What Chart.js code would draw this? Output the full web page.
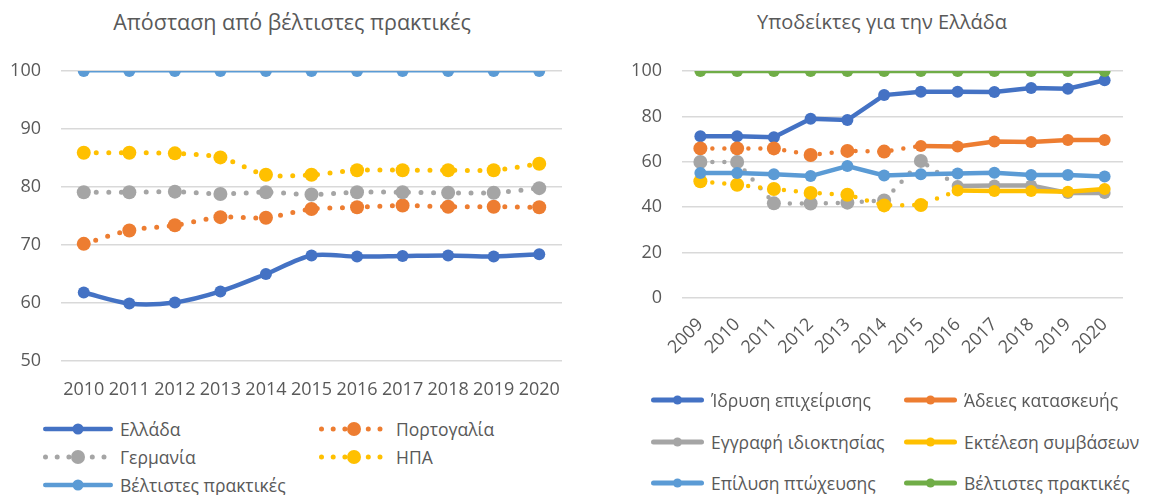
<!DOCTYPE html>
<html lang="el">
<head>
<meta charset="utf-8">
<script src="https://cdn.jsdelivr.net/npm/chart.js@4.4.1/dist/chart.umd.min.js"></script>
<style>
    body { margin: 0; background: #fff; width: 1152px; height: 495px; overflow: hidden; position: relative; font-family: "Open Sans", sans-serif; color: #595959; }
    canvas { position: absolute; top: 0; }
    .titlos { position: absolute; top: 8px; text-align: center; font-size: 20px; line-height: 28px; }
    .item { position: absolute; display: flex; align-items: center; font-size: 17.5px; white-space: nowrap; transform: translateY(-50%); }
    .item canvas { position: static; margin-right: 6px; flex: none; }
</style>
</head>
<body>
<div class="titlos" style="left:0;width:584px;font-size:21.5px">Απόσταση από βέλτιστες πρακτικές</div>
<div class="titlos" style="left:600px;width:564px">Υποδείκτες για την Ελλάδα</div>
<canvas id="c1" width="580" height="400" style="left:0"></canvas>
<canvas id="c2" width="572" height="400" style="left:580px"></canvas>
<div id="leg1"></div>
<div id="leg2"></div>
<script>
const $ = id => document.getElementById(id);

// αριστερό γράφημα
const etos1 = ["2010", "2011", "2012", "2013", "2014", "2015", "2016", "2017", "2018", "2019", "2020"];
const ellada = [61.8, 59.9, 60.1, 62.0, 65.0, 68.2, 68.0, 68.1, 68.2, 68.0, 68.4];
const portogalia = [70.2, 72.5, 73.4, 74.8, 74.7, 76.2, 76.5, 76.8, 76.6, 76.6, 76.5];
const germania = [79.1, 79.1, 79.2, 78.8, 79.1, 78.7, 79.1, 79.1, 79.0, 79.0, 79.8];
const ipa = [85.9, 85.9, 85.8, 85.1, 82.1, 82.1, 82.9, 82.9, 82.9, 82.9, 84.0];
const veltistes1 = [100, 100, 100, 100, 100, 100, 100, 100, 100, 100, 100];

// δεξί γράφημα
const etos2 = ["2009", "2010", "2011", "2012", "2013", "2014", "2015", "2016", "2017", "2018", "2019", "2020"];
const idrysi = [71.3, 71.3, 70.8, 79.0, 78.4, 89.4, 90.9, 90.9, 90.7, 92.5, 92.2, 95.9];
const adeies = [65.9, 65.9, 65.9, 63.0, 64.8, 64.5, 67.0, 66.7, 68.9, 68.7, 69.6, 69.6];
const eggrafi = [59.9, 59.9, 41.7, 41.6, 42.0, 43.0, 60.4, 49.3, 49.6, 49.6, 46.3, 46.3];
const ektelesi = [51.4, 49.9, 48.0, 46.3, 45.5, 40.8, 41.0, 47.4, 47.1, 47.1, 46.8, 48.0];
const epilysi = [55.1, 55.1, 54.5, 53.7, 58.1, 54.0, 54.5, 54.8, 55.2, 54.2, 54.2, 53.5];
const veltistes2 = [100, 100, 100, 100, 100, 100, 100, 100, 100, 100, 100, 100];

const xroma = {
    mple: "#4472C4", portokali: "#ED7D31", gkri: "#A5A5A5",
    kitrino: "#FFC000", anoixto: "#5B9BD5", prasino: "#70AD47"
};
const keimeno = "#595959";
const grammes = "#D9D9D9";
const grammatoseira = { family: "Open Sans", size: 18 };

const seira1 = [
    { label: "Ελλάδα", data: ellada, borderColor: xroma.mple, borderWidth: 4.5, pointRadius: 6 },
    { label: "Πορτογαλία", data: portogalia, borderColor: xroma.portokali, borderWidth: 5, pointRadius: 7, dots: true },
    { label: "Γερμανία", data: germania, borderColor: xroma.gkri, borderWidth: 5, pointRadius: 7, dots: true },
    { label: "ΗΠΑ", data: ipa, borderColor: xroma.kitrino, borderWidth: 5, pointRadius: 7, dots: true },
    { label: "Βέλτιστες πρακτικές", data: veltistes1, borderColor: xroma.anoixto, borderWidth: 3, pointRadius: 6 }
].map((d, i, arr) => ({
    ...d,
    backgroundColor: d.borderColor,
    pointBackgroundColor: d.borderColor,
    pointBorderWidth: 0,
    borderCapStyle: "round",
    borderDash: d.dots ? [0, 12.5] : [],
    tension: 0.3,
    order: arr.length - i
}));

// μέχρι ποιο σημείο η γραμμή είναι με τελείες
const seira2 = [
    { label: "Ίδρυση επιχείρισης", data: idrysi, borderColor: xroma.mple, teleies: -1 },
    { label: "Άδειες κατασκευής", data: adeies, borderColor: xroma.portokali, teleies: 6 },
    { label: "Εγγραφή ιδιοκτησίας", data: eggrafi, borderColor: xroma.gkri, teleies: 7 },
    { label: "Εκτέλεση συμβάσεων", data: ektelesi, borderColor: xroma.kitrino, teleies: 7 },
    { label: "Επίλυση πτώχευσης", data: epilysi, borderColor: xroma.anoixto, teleies: -1 },
    { label: "Βέλτιστες πρακτικές", data: veltistes2, borderColor: xroma.prasino, teleies: -1 }
].map((d, i, arr) => ({
    ...d,
    backgroundColor: d.borderColor,
    pointBackgroundColor: d.borderColor,
    pointBorderWidth: 0,
    borderWidth: 4.5,
    borderCapStyle: "round",
    pointRadius: c => c.dataIndex < d.teleies ? 7 : 6,
    segment: {
        borderDash: c => c.p1DataIndex <= d.teleies ? [0, 12] : []
    },
    tension: 0,
    order: arr.length - i
}));

function aksones(min, max, step, platos, ypsos, strofi) {
    return {
        x: {
            offset: true,
            grid: { display: false },
            border: { display: false },
            ticks: {
                color: keimeno, font: grammatoseira, padding: strofi ? 8 : 10,
                autoSkip: false, maxRotation: strofi, minRotation: strofi
            },
            afterFit: s => { s.height = ypsos; }
        },
        y: {
            min, max,
            grid: { color: grammes, lineWidth: 1.5, drawTicks: false },
            border: { display: false },
            ticks: { stepSize: step, color: keimeno, font: grammatoseira, padding: 20 },
            afterFit: s => { s.width = platos; }
        }
    };
}

function grafima(id, labels, datasets, scales, padding) {
    return new Chart($(id), {
        type: "line",
        data: { labels, datasets },
        options: {
            responsive: false,
            animation: false,
            layout: { padding },
            plugins: { legend: { display: false }, tooltip: { enabled: false } },
            scales
        }
    });
}

grafima("c1", etos1, seira1, aksones(50, 100, 10, 61, 39, 0), { top: 71, right: 18, left: 0, bottom: 0 });
grafima("c2", etos2, seira2, aksones(0, 100, 20, 102, 102, 45), { top: 71, right: 29, left: 0, bottom: 0 });

function deigma(ds, w, lw, r, teleies) {
    const c = document.createElement("canvas");
    c.width = w;
    c.height = 16;
    const g = c.getContext("2d");
    g.strokeStyle = ds.borderColor;
    g.fillStyle = ds.borderColor;
    g.lineWidth = lw;
    g.lineCap = "round";
    if (teleies) g.setLineDash([0, 11.7]);
    g.beginPath();
    g.moveTo(lw / 2 + 1, 8);
    g.lineTo(w - lw / 2 - 1, 8);
    g.stroke();
    g.beginPath();
    g.arc(w / 2, 8, r, 0, Math.PI * 2);
    g.fill();
    return c;
}

function ypomnima(id, datasets, theseis, w, lw, r) {
    const box = $(id);
    datasets.forEach((ds, i) => {
        const [x, y] = theseis[i];
        const el = document.createElement("div");
        el.className = "item";
        el.style.left = x + "px";
        el.style.top = y + "px";
        el.append(deigma(ds, w, ds.dots ? 5 : lw, ds.dots ? 7 : r, ds.dots));
        const t = document.createElement("span");
        t.textContent = ds.label;
        el.append(t);
        box.append(el);
    });
}

ypomnima("leg1", seira1, [[42, 429], [318, 429], [42, 457], [318, 457], [42, 485]], 72, 4.5, 5.5);
ypomnima("leg2", seira2, [[650, 400], [903, 400], [650, 442], [903, 442], [650, 483], [903, 483]], 55, 5, 4.5);
</script>
</body>
</html>
